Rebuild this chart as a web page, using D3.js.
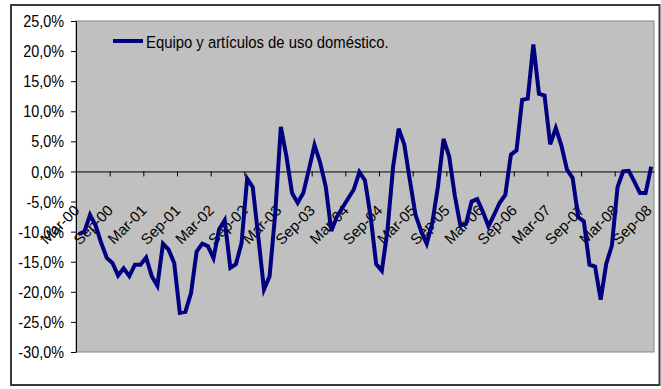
<!DOCTYPE html>
<html>
<head>
<meta charset="utf-8">
<script src="https://cdn.jsdelivr.net/npm/d3@7"></script>
<style>
  html, body { margin: 0; padding: 0; background: #fff; }
  svg { display: block; font-family: "Liberation Sans", Arial, sans-serif; }
</style>
</head>
<body>
<svg id="chart" width="661" height="389"></svg>
<script>
// Series name shown in the legend
const seriesName = "Equipo y artículos de uso doméstico.";

// Monthly categories, Mar-00 … Sep-08
const categories = [
  "Mar-00","Abr-00","May-00","Jun-00","Jul-00","Ago-00","Sep-00","Oct-00","Nov-00","Dic-00",
  "Ene-01","Feb-01","Mar-01","Abr-01","May-01","Jun-01","Jul-01","Ago-01","Sep-01","Oct-01","Nov-01","Dic-01",
  "Ene-02","Feb-02","Mar-02","Abr-02","May-02","Jun-02","Jul-02","Ago-02","Sep-02","Oct-02","Nov-02","Dic-02",
  "Ene-03","Feb-03","Mar-03","Abr-03","May-03","Jun-03","Jul-03","Ago-03","Sep-03","Oct-03","Nov-03","Dic-03",
  "Ene-04","Feb-04","Mar-04","Abr-04","May-04","Jun-04","Jul-04","Ago-04","Sep-04","Oct-04","Nov-04","Dic-04",
  "Ene-05","Feb-05","Mar-05","Abr-05","May-05","Jun-05","Jul-05","Ago-05","Sep-05","Oct-05","Nov-05","Dic-05",
  "Ene-06","Feb-06","Mar-06","Abr-06","May-06","Jun-06","Jul-06","Ago-06","Sep-06","Oct-06","Nov-06","Dic-06",
  "Ene-07","Feb-07","Mar-07","Abr-07","May-07","Jun-07","Jul-07","Ago-07","Sep-07","Oct-07","Nov-07","Dic-07",
  "Ene-08","Feb-08","Mar-08","Abr-08","May-08","Jun-08","Jul-08","Ago-08","Sep-08"
];

// Annual variation, percent
const values = [
  -10.4, -10.0, -7.2, -9.0, -11.9, -14.4, -15.2, -17.3, -16.1, -17.4,
  -15.5, -15.5, -14.3, -17.4, -19.0, -12.0, -13.0, -15.2, -23.5, -23.3, -20.2, -13.3,
  -12.0, -12.4, -14.4, -9.6, -8.1, -16.0, -15.4, -11.9, -1.2, -2.6, -11.0, -19.6,
  -17.4, -7.0, 7.4, 2.5, -3.6, -5.2, -3.6, 0.3, 4.4, 1.5, -2.5, -9.9,
  -7.5, -6.0, -4.5, -3.0, -0.1, -1.5, -7.5, -15.4, -16.5, -9.8, 0.7, 7.1,
  4.5, -1.5, -7.2, -9.9, -12.0, -8.5, -2.5, 5.4, 2.5, -4.0, -9.0, -8.7,
  -5.0, -4.6, -6.7, -9.1, -7.2, -5.2, -3.9, 2.8, 3.5, 11.9, 12.1, 21.1,
  12.9, 12.6, 4.5, 7.2, 4.3, 0.3, -1.1, -7.6, -8.3, -15.5, -15.8, -21.3,
  -15.3, -12.3, -2.6, 0.0, 0.1, -1.7, -3.6, -3.6, 0.8
];

// Category labels shown on the horizontal axis (every sixth month)
const tickLabels = [
  "Mar-00","Sep-00","Mar-01","Sep-01","Mar-02","Sep-02","Mar-03","Sep-03","Mar-04",
  "Sep-04","Mar-05","Sep-05","Mar-06","Sep-06","Mar-07","Sep-07","Mar-08","Sep-08"
];

// Value axis ticks, percent
const yTicks = [25, 20, 15, 10, 5, 0, -5, -10, -15, -20, -25, -30];

const svg = d3.select("#chart");
const plot = { left: 76, right: 654, top: 21, bottom: 352 };
const navy = "#000080";
const squeeze = 0.9;  // narrow letterforms for horizontal text

// Outer chart frame
svg.append("rect")
  .attr("x", 11).attr("y", 5).attr("width", 648.5).attr("height", 380)
  .attr("fill", "#fff").attr("stroke", "#3a3a3a").attr("stroke-width", 2);

// Scales
const x = d3.scaleBand().domain(categories).range([plot.left, plot.right]).padding(0);
const xIdx = d3.scaleLinear().domain([0, categories.length]).range([plot.left, plot.right]);
const y = d3.scaleLinear().domain([-30, 25]).range([plot.bottom, plot.top]);
const cx = c => x(c) + x.bandwidth() / 2;

// Plot area
svg.append("rect")
  .attr("x", plot.left).attr("y", plot.top)
  .attr("width", plot.right - plot.left).attr("height", plot.bottom - plot.top)
  .attr("fill", "#c0c0c0").attr("stroke", "#858585").attr("stroke-width", 1);

// Value axis
const yAxis = svg.append("g")
  .attr("transform", `translate(${plot.left},0)`)
  .call(d3.axisLeft(y).tickValues(yTicks).tickSize(5).tickSizeOuter(0)
    .tickFormat(d => d.toFixed(1).replace(".", ",") + "%"));
yAxis.select(".domain").attr("stroke", "#000");
yAxis.selectAll(".tick line").attr("stroke", "#000");
yAxis.selectAll(".tick text")
  .attr("x", null).attr("dy", "0.35em")
  .attr("transform", `translate(-12,0) scale(${squeeze},1)`)
  .attr("font-size", 16).attr("fill", "#000")
  .attr("font-family", "Liberation Sans, Arial, sans-serif");

// Category axis crossing at zero, ticks every six months
const xAxis = svg.append("g")
  .attr("transform", `translate(0,${y(0)})`)
  .call(d3.axisBottom(xIdx)
    .tickValues(d3.range(0, categories.length, 6))
    .tickSize(5).tickSizeOuter(0).tickFormat(""));
xAxis.select(".domain").attr("stroke", "#000");
xAxis.selectAll(".tick line").attr("stroke", "#000");

// Rotated category labels
svg.append("g").selectAll("text")
  .data(tickLabels)
  .join("text")
  .attr("transform", d => `translate(${cx(d) + 1.5},${y(0) + 40}) rotate(-45)`)
  .attr("text-anchor", "end")
  .attr("font-size", 15)
  .attr("fill", "#000")
  .text(d => d);

// Series line
const line = d3.line()
  .x((d, i) => cx(categories[i]))
  .y(d => y(d));
svg.append("path")
  .datum(values)
  .attr("d", line)
  .attr("fill", "none")
  .attr("stroke", navy)
  .attr("stroke-width", 4)
  .attr("stroke-linejoin", "miter")
  .attr("stroke-miterlimit", 4);

// Legend
const legend = svg.append("g").attr("transform", "translate(113,41)");
legend.append("line")
  .attr("x1", 0).attr("x2", 30).attr("y1", 0).attr("y2", 0)
  .attr("stroke", navy).attr("stroke-width", 4);
legend.append("text")
  .attr("transform", `translate(33,7) scale(${squeeze},1)`)
  .attr("font-size", 16.5)
  .attr("fill", "#000")
  .text(seriesName);
</script>
</body>
</html>
